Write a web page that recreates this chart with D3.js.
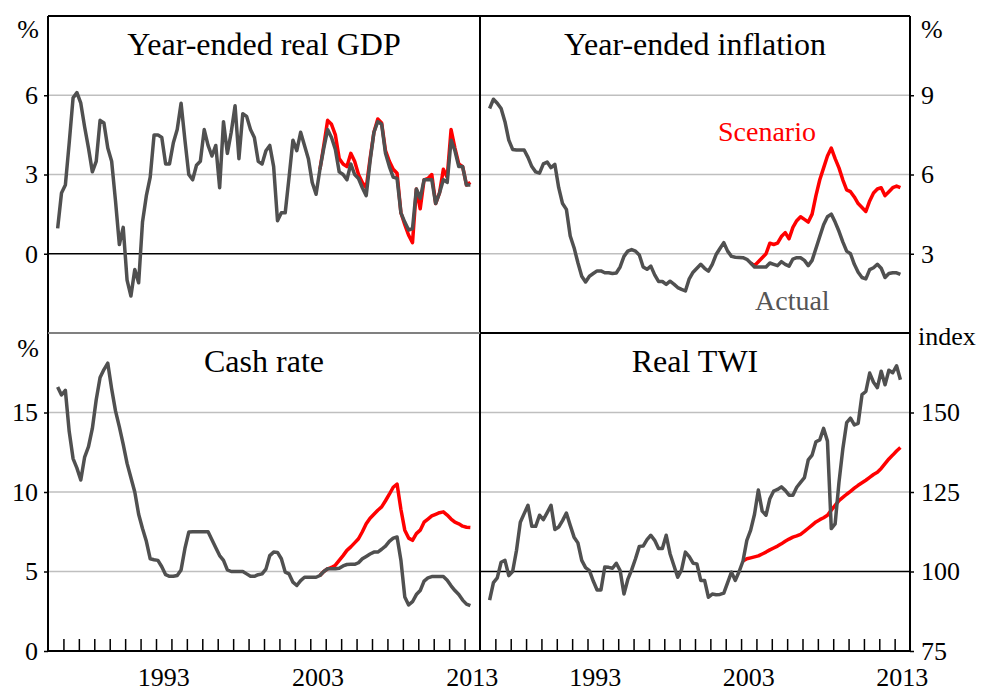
<!DOCTYPE html>
<meta charset="utf-8">
<style>
body { margin: 0; background: #fff; }
text { font-family: "Liberation Serif", "DejaVu Serif", serif; fill: #000; }
.grid { stroke: #bfbfbf; stroke-width: 1.5; }
.base { stroke: #000; stroke-width: 1.5; }
.frame { stroke: #000; stroke-width: 2; }
.actual { fill: none; stroke: #505050; stroke-width: 3.5; stroke-linejoin: round; }
.scenario { fill: none; stroke: #ff0000; stroke-width: 3.5; stroke-linejoin: round; }
.axis path { display: none; }
.axis line { stroke: #000; stroke-width: 1.5; }
</style>
<svg width="987" height="693" style="font-family: 'Liberation Serif', 'DejaVu Serif', serif"></svg>
<script src="https://d3js.org/d3.v7.min.js"></script>
<script>
// quarterly data, first point is 1986 Q3 (plotted mid-quarter)
var firstQuarter = 1986.625;
var yearTicks = d3.range(1987, 2014);
var yearLabels = [1993, 2003, 2013];

// year-ended real GDP growth, %
var gdpActual = [0.96, 2.3, 2.6, 4.2, 5.9, 6.1, 5.7, 4.8, 4.0, 3.1, 3.5, 5.05, 4.95, 4.0, 3.5, 2.0,
  0.35, 1.0, -1.0, -1.6, -0.6, -1.1, 1.2, 2.2, 2.9, 4.5, 4.5, 4.4, 3.4, 3.4, 4.2, 4.7,
  5.7, 4.3, 3.0, 2.8, 3.35, 3.5, 4.7, 4.1, 3.7, 4.1, 2.5, 5.0, 3.8, 4.6, 5.6, 3.6,
  5.3, 5.2, 4.7, 4.4, 3.5, 3.4, 3.9, 4.1, 3.3, 1.25, 1.55, 1.55, 2.9, 4.3, 3.9, 4.6,
  4.1, 3.6, 2.7, 2.25, 3.2, 4.0, 4.7, 4.4, 3.95, 3.1, 3.0, 2.8, 3.4, 3.0, 2.85, 2.5,
  2.2, 3.5, 4.6, 5.0, 4.9, 3.8, 3.3, 2.9, 2.85, 1.55, 1.2, 0.9, 0.95, 2.45, 2.1, 2.8,
  2.8, 2.8, 1.9, 2.3, 2.8, 2.7, 4.3, 3.9, 3.3, 3.3, 2.6, 2.6];
var gdpScenario = [3.2, 4.1, 5.05, 4.9, 4.5, 3.6, 3.4, 3.3, 3.8, 3.5, 3.0, 2.7, 2.5, 3.6, 4.6, 5.1,
  4.95, 3.9, 3.5, 3.2, 3.05, 1.55, 1.1, 0.7, 0.42, 2.45, 1.7, 2.8, 2.85, 3.0, 1.9, 2.3,
  3.2, 2.9, 4.7, 4.0, 3.4, 3.3, 2.6, 2.7];

// year-ended inflation, %
var inflActual = [8.5, 8.85, 8.7, 8.5, 8.0, 7.3, 6.95, 6.93, 6.93, 6.93, 6.65, 6.3, 6.1, 6.05, 6.4, 6.47,
  6.26, 6.38, 5.5, 4.9, 4.68, 3.67, 3.23, 2.66, 2.15, 1.93, 2.15, 2.25, 2.35, 2.35, 2.28, 2.28,
  2.25, 2.27, 2.5, 2.9, 3.1, 3.16, 3.1, 2.95, 2.5, 2.41, 2.53, 2.2, 1.95, 1.95, 1.84, 1.96,
  1.85, 1.72, 1.65, 1.59, 2.05, 2.3, 2.45, 2.6, 2.45, 2.34, 2.6, 2.97, 3.2, 3.42, 3.1, 2.9,
  2.87, 2.86, 2.85, 2.79, 2.65, 2.5, 2.5, 2.5, 2.5, 2.65, 2.6, 2.55, 2.7, 2.6, 2.53, 2.8,
  2.85, 2.85, 2.75, 2.55, 2.75, 3.2, 3.65, 4.1, 4.4, 4.5, 4.2, 3.85, 3.45, 3.1, 3.0, 2.6,
  2.3, 2.1, 2.05, 2.4, 2.47, 2.6, 2.45, 2.1, 2.25, 2.28, 2.28, 2.22];
var inflScenario = [2.65, 2.55, 2.7, 2.85, 3.0, 3.4, 3.35, 3.4, 3.65, 3.8, 3.57, 4.0, 4.25, 4.4, 4.3, 4.2,
  4.5, 5.2, 5.8, 6.25, 6.7, 7.0, 6.6, 6.25, 5.8, 5.42, 5.35, 5.15, 4.9, 4.75, 4.6, 5.0,
  5.3, 5.45, 5.5, 5.2, 5.35, 5.5, 5.56, 5.5];

// cash rate, %
var cashActual = [16.6, 16.1, 16.4, 13.8, 12.1, 11.5, 10.75, 12.2, 12.85, 14.0, 15.8, 17.2, 17.7, 18.1, 16.5, 15.1,
  14.1, 13.0, 11.8, 10.9, 10.0, 8.6, 7.7, 6.9, 5.8, 5.74, 5.7, 5.3, 4.8, 4.7, 4.7, 4.75,
  5.1, 6.45, 7.48, 7.5, 7.5, 7.5, 7.5, 7.5, 7.0, 6.5, 6.0, 5.7, 5.1, 5.0, 5.0, 5.0,
  5.0, 4.85, 4.7, 4.7, 4.8, 4.85, 5.15, 6.0, 6.22, 6.2, 5.8, 4.96, 4.85, 4.33, 4.12, 4.43,
  4.64, 4.64, 4.64, 4.64, 4.75, 5.0, 5.17, 5.17, 5.17, 5.2, 5.35, 5.44, 5.45, 5.45, 5.55, 5.8,
  5.95, 6.1, 6.22, 6.22, 6.4, 6.6, 6.9, 7.1, 7.17, 5.7, 3.4, 2.9, 3.1, 3.55, 3.8, 4.4,
  4.6, 4.68, 4.68, 4.68, 4.68, 4.45, 4.1, 3.8, 3.55, 3.2, 2.95, 2.85];
var cashScenario = [4.75, 5.0, 5.17, 5.25, 5.4, 5.7, 6.0, 6.33, 6.55, 6.8, 7.06, 7.5, 8.0, 8.35, 8.6, 8.85,
  9.06, 9.45, 9.86, 10.3, 10.5, 8.9, 7.6, 7.1, 6.96, 7.38, 7.6, 8.1, 8.3, 8.5, 8.6, 8.7,
  8.75, 8.55, 8.3, 8.1, 8.0, 7.85, 7.78, 7.76];

// real trade-weighted index
var twiActual = [91, 96.5, 98, 102.9, 103.5, 98.7, 100, 106.6, 115.5, 118.2, 120.8, 114.2, 114.2, 117.7, 116.3, 118.5,
  120.8, 113.2, 114, 116, 118.4, 114.5, 110.8, 109, 103.5, 101.2, 100.3, 97, 94.2, 94.2, 101.4, 101.3,
  101, 102.6, 100.3, 92.9, 97.5, 100.5, 104, 107.9, 108, 110, 111.4, 109.8, 107.2, 107.2, 111.4, 105.6,
  101.9, 98.2, 100.5, 106.1, 104.7, 102.6, 102.4, 97.2, 97.2, 91.9, 92.9, 92.7, 92.8, 93.2, 96.5, 99.8,
  97.2, 100, 103.3, 109.8, 113, 118, 125.6, 119, 117.7, 122.9, 125.3, 125.8, 126.6, 125.5, 124, 124,
  126.5, 128, 129.5, 135.1, 136.6, 140.8, 141.4, 145, 141, 113.5, 115, 128, 138.5, 146.8, 148.2, 146.1,
  146.6, 155.6, 156.6, 162.4, 159.5, 157.8, 163, 158.7, 163.3, 162.5, 164.7, 160.3];
var twiScenario = [103.3, 104, 104.3, 104.6, 104.9, 105.5, 106.1, 106.8, 107.4, 108, 108.7, 109.5, 110.2, 110.8, 111.2, 111.7,
  112.6, 113.6, 114.6, 115.6, 116.3, 116.9, 117.7, 119.3, 120.8, 122.3, 123.3, 124.3, 125.2, 126.2, 127.1, 127.9,
  128.7, 129.6, 130.5, 131.2, 132.4, 133.9, 135.4, 136.6, 137.9, 139];

var svg = d3.select("svg");
var plotLeft = 48, plotMid = 480, plotRight = 910, plotTop = 16, plotMiddle = 333, plotBottom = 651;

var xL = d3.scaleLinear().domain([1986, 2014]).range([plotLeft, plotMid]);
var xR = d3.scaleLinear().domain([1986, 2014]).range([plotMid, plotRight]);

var panels = [
  {title: "Year-ended real GDP", x: xL, y: d3.scaleLinear().domain([-3, 9]).range([plotMiddle, plotTop]),
   ticks: [0, 3, 6], grid: [3, 6], base: 0, actual: gdpActual, scenario: gdpScenario, start: 68, side: "left"},
  {title: "Year-ended inflation", x: xR, y: d3.scaleLinear().domain([0, 12]).range([plotMiddle, plotTop]),
   ticks: [3, 6, 9], grid: [3, 6, 9], base: null, actual: inflActual, scenario: inflScenario, start: 68, side: "right"},
  {title: "Cash rate", x: xL, y: d3.scaleLinear().domain([0, 20]).range([plotBottom, plotMiddle]),
   ticks: [0, 5, 10, 15], grid: [5, 10, 15], base: null, actual: cashActual, scenario: cashScenario, start: 68, side: "left"},
  {title: "Real TWI", x: xR, y: d3.scaleLinear().domain([75, 175]).range([plotBottom, plotMiddle]),
   ticks: [75, 100, 125, 150], grid: [125, 150], base: 100, actual: twiActual, scenario: twiScenario, start: 66, side: "right"}
];

function toPoints(values, start) {
  return values.map(function(v, i) { return {t: firstQuarter + 0.25 * (start + i), v: v}; });
}

panels.forEach(function(p) {
  var g = svg.append("g");
  var x0 = p.x.range()[0], x1 = p.x.range()[1];

  g.selectAll(".grid").data(p.grid).enter().append("line")
    .attr("class", "grid")
    .attr("x1", x0).attr("x2", x1)
    .attr("y1", function(d) { return p.y(d); })
    .attr("y2", function(d) { return p.y(d); });

  if (p.base !== null) {
    g.append("line").attr("class", "base")
      .attr("x1", x0).attr("x2", x1)
      .attr("y1", p.y(p.base)).attr("y2", p.y(p.base));
  }

  var line = d3.line()
    .x(function(d) { return p.x(d.t); })
    .y(function(d) { return p.y(d.v); });

  g.append("path").attr("class", "scenario").attr("d", line(toPoints(p.scenario, p.start)));
  g.append("path").attr("class", "actual").attr("d", line(toPoints(p.actual, 0)));

  // y axis
  var yAxis = (p.side == "left" ? d3.axisLeft(p.y) : d3.axisRight(p.y))
    .tickValues(p.ticks).tickSize(4).tickPadding(p.side == "left" ? 6 : 7);
  var ax = g.append("g").attr("class", "axis")
    .attr("transform", "translate(" + (p.side == "left" ? plotLeft : plotRight) + ",0)")
    .call(yAxis);
  ax.attr("font-family", null).attr("font-size", null);
  ax.selectAll("text").style("font-size", "26px");

  // title
  var y0 = p.y.range()[1];
  g.append("text")
    .attr("x", (x0 + x1) / 2).attr("y", y0 + 39)
    .attr("text-anchor", "middle")
    .style("font-size", "32px")
    .text(p.title);
});

// year ticks along the bottom
[xL, xR].forEach(function(x) {
  svg.append("g").attr("class", "axis")
    .attr("transform", "translate(0," + plotBottom + ")")
    .call(d3.axisBottom(x).tickValues(yearTicks).tickSize(-12).tickFormat(""));
  svg.selectAll(null).data(yearLabels).enter().append("text")
    .attr("x", function(d) { return x(d + 0.5); })
    .attr("y", 686)
    .attr("text-anchor", "middle")
    .style("font-size", "26px")
    .text(function(d) { return d; });
});

// frame
function frameLine(x1, y1, x2, y2) {
  return svg.append("line").attr("class", "frame")
    .attr("x1", x1).attr("y1", y1).attr("x2", x2).attr("y2", y2);
}
frameLine(plotLeft, plotTop, plotRight, plotTop);
frameLine(plotLeft, plotBottom, plotRight, plotBottom);
frameLine(plotLeft, plotTop, plotLeft, plotBottom);
frameLine(plotRight, plotTop, plotRight, plotBottom);
frameLine(plotMid, plotTop, plotMid, plotBottom);
frameLine(plotLeft, plotMiddle, plotMid, plotMiddle).style("stroke", "#808080");
frameLine(plotMid, plotMiddle, plotRight, plotMiddle);

// units
svg.append("text").attr("x", 39).attr("y", 38).attr("text-anchor", "end").style("font-size", "26px").text("%");
svg.append("text").attr("x", 39).attr("y", 357).attr("text-anchor", "end").style("font-size", "26px").text("%");
svg.append("text").attr("x", 921).attr("y", 38).style("font-size", "26px").text("%");
svg.append("text").attr("x", 918).attr("y", 345).style("font-size", "26px").text("index");

// series labels
svg.append("text").attr("x", 718).attr("y", 141).style("font-size", "28px").style("fill", "#ff0000").text("Scenario");
svg.append("text").attr("x", 755).attr("y", 310).style("font-size", "28px").style("fill", "#555555").text("Actual");
</script>
